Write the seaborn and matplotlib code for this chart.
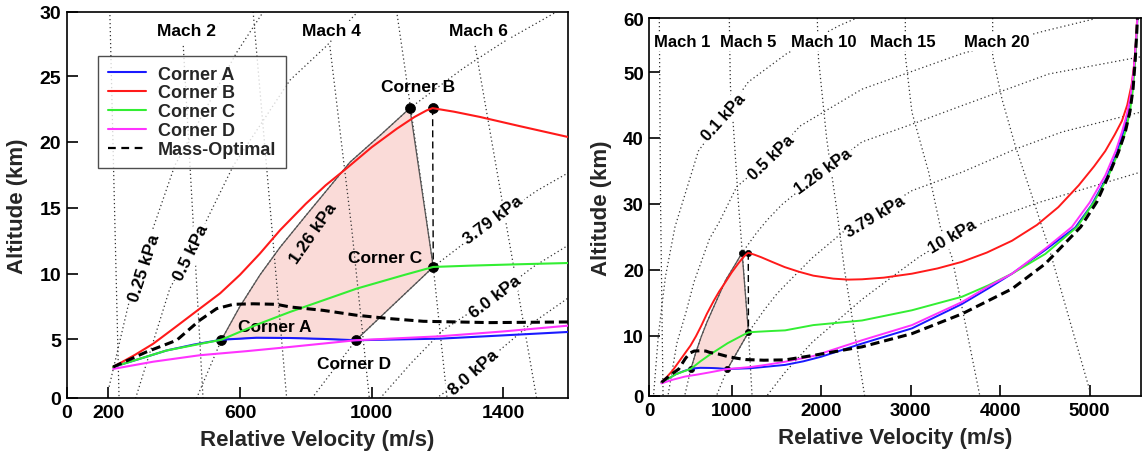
import matplotlib
matplotlib.use("Agg")
import matplotlib.pyplot as plt
import seaborn as sns
from matplotlib.lines import Line2D

# ---------------- data (velocity m/s, altitude km) ----------------
# trajectories
v_a = [215, 300, 377, 460, 544, 650, 752, 853, 952, 1100, 1207, 1400, 1597, 1800, 2000, 2456, 3014, 3573, 3871, 4132, 4504, 4839, 5020, 5190, 5300, 5380, 5440, 5480, 5505, 5525, 5540]
h_a = [2.9, 3.55, 4.15, 4.6, 4.97, 5.12, 5.1, 5.03, 4.93, 5.0, 5.05, 5.3, 5.56, 6.1, 6.8, 8.8, 11.1, 14.8, 17.2, 19.4, 23.0, 26.4, 29.8, 34.0, 37.6, 41.0, 44.8, 48.5, 52.0, 56.0, 60.0]
v_b = [215, 280, 337, 400, 478, 540, 600, 660, 722, 800, 860, 924, 1000, 1076, 1130, 1167, 1185, 1250, 1329, 1450, 1592, 1750, 1912, 2135, 2300, 2456, 2700, 3014, 3300, 3573, 3850, 4132, 4411, 4650, 4877, 5050, 5174, 5280, 5361, 5420, 5470, 5500, 5518, 5530, 5540]
h_b = [2.9, 3.8, 4.67, 5.85, 7.33, 8.5, 9.9, 11.5, 13.3, 15.3, 16.7, 18.0, 19.6, 21.0, 21.9, 22.4, 22.57, 22.3, 21.9, 21.2, 20.4, 19.7, 19.1, 18.65, 18.5, 18.55, 18.8, 19.4, 20.2, 21.2, 22.6, 24.4, 26.8, 29.5, 32.8, 35.7, 38.0, 40.5, 42.6, 45.0, 48.2, 51.5, 54.8, 58.1, 60.0]
v_c = [215, 377, 544, 650, 752, 954, 1100, 1187, 1300, 1440, 1597, 1912, 2456, 3014, 3573, 3871, 4132, 4504, 4860, 5050, 5212, 5320, 5398, 5450, 5485, 5510, 5528, 5540]
h_c = [2.9, 4.15, 4.97, 6.1, 7.08, 8.85, 9.9, 10.5, 10.6, 10.7, 10.8, 11.6, 12.3, 13.85, 15.9, 17.65, 19.4, 22.4, 26.5, 30.3, 34.3, 37.8, 40.9, 44.0, 47.5, 52.0, 56.5, 60.0]
v_d = [215, 337, 478, 620, 752, 952, 1207, 1400, 1597, 1912, 2456, 3014, 3573, 3871, 4132, 4504, 4802, 5000, 5174, 5290, 5361, 5420, 5458, 5490, 5512, 5528, 5540]
h_d = [2.75, 3.3, 3.79, 4.1, 4.42, 4.93, 5.23, 5.6, 6.04, 6.9, 9.3, 11.6, 15.1, 17.5, 19.4, 23.2, 26.5, 30.2, 34.3, 38.0, 40.9, 43.8, 46.5, 50.0, 53.5, 57.0, 60.0]
v_m = [215, 316, 408, 478, 529, 580, 640, 711, 752, 853, 954, 1056, 1157, 1359, 1597, 1912, 2285, 2456, 3014, 3573, 4132, 4504, 4900, 5080, 5212, 5320, 5398, 5450, 5485, 5510, 5528, 5540]
h_m = [2.9, 4.04, 4.93, 6.45, 7.33, 7.66, 7.7, 7.66, 7.46, 7.2, 6.83, 6.57, 6.37, 6.27, 6.32, 7.0, 7.9, 8.3, 10.3, 13.3, 17.1, 20.9, 26.5, 30.3, 34.3, 37.8, 40.9, 44.0, 47.5, 52.0, 56.5, 60.0]

# corner points
corner_v = [544, 1116, 1185, 1187, 952]
corner_h = [4.97, 22.57, 22.57, 10.5, 4.93]

# feasible box (shaded)
box_v = [544, 600, 661, 722, 800, 934, 1030, 1116, 1187, 952, 853, 752, 650]
box_h = [4.97, 7.5, 9.9, 12.0, 14.4, 18.46, 20.6, 22.57, 10.5, 4.93, 5.03, 5.1, 5.12]

# vertical dashed link Corner B -> Corner C
link_v = [1185, 1187]
link_h = [22.57, 10.5]

# Mach lines
mach1 = [(191, 58.2), (205, 29.9), (233, 0.5)]
mach2 = [(428, 27.3), (488, 0.5)]
mach3 = [(640, 29.9), (742, 0.5)]
mach4 = [(873, 27.3), (939, 13.5), (993, 0.5)]
mach5 = [(973, 58.2), (985, 48.0), (1018, 41.9), (1076, 29.9), (1101, 25.6), (1187, 10.5), (1229, 0.5)]
mach6 = [(1314, 27.3), (1501, 0.5)]
mach10 = [(1956, 58.2), (1970, 52.0), (2061, 39.9), (2173, 29.2), (2260, 20.0), (2490, 0.5)]
mach15 = [(2940, 58.2), (2940, 52.5), (3014, 43.9), (3201, 34.8), (3331, 26.5), (3461, 21.9), (3778, 0.5)]
mach20 = [(3916, 58.2), (3916, 52.5), (4020, 45.9), (4169, 38.8), (4392, 29.7), (4467, 26.5), (4541, 23.5), (5026, 0.5)]

# dynamic pressure lines
q01 = [(124, 0.5), (180, 10.0), (260, 19.0), (366, 26.5), (627, 38.0), (906, 43.2), (1186, 48.5), (1615, 52.8), (2210, 57.1), (2400, 58.2)]
q025 = [(200, 1.1), (261, 7.6), (337, 13.5), (402, 18.2), (590, 26.8), (671, 29.9)]
q05 = [(283, 0.5), (387, 8.85), (488, 13.5), (580, 18.2), (752, 24.7), (863, 27.3), (1056, 32.6), (1447, 37.1), (1763, 41.8), (2456, 47.4), (3573, 52.8), (4486, 56.2), (5063, 58.1)]
q126 = [(468, 0.5), (544, 4.97), (600, 7.5), (661, 9.9), (722, 12.0), (800, 14.4), (934, 18.46), (1030, 20.6), (1116, 22.57), (1278, 25.6), (1400, 27.6), (1562, 29.9), (2024, 35.0), (2456, 39.4), (2977, 41.9), (3573, 44.9), (4542, 49.7), (5565, 52.3)]
q379 = [(818, 0.5), (952, 4.93), (1187, 10.5), (1369, 14.0), (1502, 16.3), (1600, 17.7), (1900, 21.8), (2250, 25.8), (2603, 28.5), (3014, 32.0), (3573, 34.8), (4169, 38.3), (4690, 40.9), (5565, 43.9)]
q6 = [(1025, 0.5), (1120, 3.2), (1217, 5.7), (1375, 8.3), (1490, 10.5), (1600, 12.2)]
q8 = [(1195, 0.5), (1308, 2.5), (1390, 4.2), (1480, 6.1), (1600, 8.2)]
q10 = [(1372, 0.5), (1600, 4.5), (1900, 9.0), (2200, 12.5), (2456, 15.5), (2800, 19.0), (3090, 21.9), (3472, 25.1), (3871, 27.5), (4430, 30.2), (5565, 34.8)]

# axis ticks
xticks_L = [74, 200, 600, 1000, 1400]
xlabels_L = ["0", "200", "600", "1000", "1400"]
yticks_L = [0.54, 5, 10, 15, 20, 25, 29.9]
ylabels_L = ["0", "5", "10", "15", "20", "25", "30"]
xticks_R = [79, 1000, 2000, 3000, 4000, 5000]
xlabels_R = ["0", "1000", "2000", "3000", "4000", "5000"]
yticks_R = [0.84, 10, 20, 30, 40, 50, 58.2]
ylabels_R = ["0", "10", "20", "30", "40", "50", "60"]

series_names = ["Corner A", "Corner B", "Corner C", "Corner D", "Mass-Optimal"]

# ---------------- styling ----------------
sns.set_theme(style="white")
plt.rcParams["font.family"] = ["Liberation Sans", "DejaVu Sans"]
plt.rcParams["font.weight"] = "bold"
plt.rcParams["axes.labelweight"] = "bold"

C_BLUE = "#1a1aff"
C_RED = "#ff1a1a"
C_GREEN = "#33ee33"
C_MAG = "#ff33ff"
C_PINK = "#fadbd8"
C_DOT = "#333333"

fig = plt.figure(figsize=(11.44, 4.56), dpi=100)
axL = fig.add_axes([66.7 / 1144, 1 - 399 / 456, 501.6 / 1144, 386.3 / 456])
axR = fig.add_axes([649.3 / 1144, 1 - 397 / 456, 492 / 1144, 378 / 456])


def dotted(ax, pts):
    xs = [p[0] for p in pts]
    ys = [p[1] for p in pts]
    ax.plot(xs, ys, color=C_DOT, lw=0.9, linestyle=(0, (1, 2.2)), zorder=1)


def label(ax, x, y, s, rot=0, box=True, size=12.5):
    kw = dict(ha="center", va="center", rotation=rot, rotation_mode="anchor",
              fontsize=size, fontweight="bold", color="black", zorder=2)
    if box:
        kw["bbox"] = dict(facecolor="white", edgecolor="none", pad=1.5)
    ax.text(x, y, s, **kw)


def draw_common(ax, lw_main, lw_dash, dot_size):
    ax.fill(box_v, box_h, facecolor=C_PINK, edgecolor="none", zorder=0.5)
    ax.plot(box_v + box_v[:1], box_h + box_h[:1], color="#555555", lw=0.9, zorder=2.5)
    ax.plot(link_v, link_h, color="black", lw=1.0, dashes=(5, 3), zorder=2.6)
    sns.scatterplot(x=corner_v, y=corner_h, color="black", s=dot_size, edgecolor="black",
                    linewidth=0.5, zorder=3, ax=ax, legend=False)
    for v, h, c in [(v_a, h_a, C_BLUE), (v_b, h_b, C_RED), (v_c, h_c, C_GREEN), (v_d, h_d, C_MAG)]:
        sns.lineplot(x=v, y=h, sort=False, estimator=None, color=c, lw=lw_main, zorder=4, ax=ax)
    sns.lineplot(x=v_m, y=h_m, sort=False, estimator=None, color="black", lw=lw_dash, zorder=4.5, ax=ax)
    ax.get_lines()[-1].set_dashes((3.0, 1.6))


def style_axes(ax, xt, xl, yt, yl, ts):
    ax.set_xticks(xt)
    ax.set_xticklabels(xl)
    ax.set_yticks(yt)
    ax.set_yticklabels(yl)
    ax.tick_params(direction="in", length=8, width=1.2, labelsize=ts, pad=4,
                   bottom=True, left=True, top=False, right=False, colors="black")
    for sp in ax.spines.values():
        sp.set_color("black")
        sp.set_linewidth(1.2)
    ax.set_xlabel("Relative Velocity (m/s)", fontsize=16, labelpad=6)
    ax.set_ylabel("Altitude (km)", fontsize=16, labelpad=8)
    ax.grid(False)


# ---------------- left panel ----------------
for pts in [mach1, mach2, mach3, mach4, mach5, mach6, q025, q05, q126, q379, q6, q8]:
    dotted(axL, pts)
draw_common(axL, 1.5, 2.2, 52)
axL.set_xlim(74, 1597)
axL.set_ylim(0.54, 29.9)
style_axes(axL, xticks_L, xlabels_L, yticks_L, ylabels_L, 14)

label(axL, 438, 28.5, "Mach 2")
label(axL, 878, 28.5, "Mach 4")
label(axL, 1324, 28.5, "Mach 6")
label(axL, 309, 10.5, "0.25 kPa", rot=72)
label(axL, 452, 11.6, "0.5 kPa", rot=64)
label(axL, 823, 13.1, "1.26 kPa", rot=55, box=False)
label(axL, 1369, 14.1, "3.79 kPa", rot=37)
label(axL, 1375, 8.3, "6.0 kPa", rot=37)
label(axL, 1309, 2.5, "8.0 kPa", rot=41)
label(axL, 1140, 24.2, "Corner B", box=False)
label(axL, 1040, 11.2, "Corner C", box=False)
label(axL, 706, 5.94, "Corner A", box=False)
label(axL, 947, 3.2, "Corner D", box=False)

handles = [Line2D([], [], color=C_BLUE, lw=1.5),
           Line2D([], [], color=C_RED, lw=1.5),
           Line2D([], [], color=C_GREEN, lw=1.5),
           Line2D([], [], color=C_MAG, lw=1.5),
           Line2D([], [], color="black", lw=1.6, dashes=(3.5, 2.5))]
leg = axL.legend(handles, series_names, loc="upper left", bbox_to_anchor=(0.0618, 0.886),
                 borderaxespad=0, frameon=True, fancybox=False,
                 handlelength=2.1, handletextpad=0.7, labelspacing=0.1, borderpad=0.55,
                 prop={"weight": "bold", "size": 13})
leg.get_frame().set_edgecolor("#222222")
leg.get_frame().set_linewidth(1.0)
leg.set_zorder(6)

# ---------------- right panel ----------------
for pts in [mach1, mach5, mach10, mach15, mach20, q01, q05, q126, q379, q10]:
    dotted(axR, pts)
draw_common(axR, 1.4, 2.2, 20)
axR.set_xlim(79, 5577)
axR.set_ylim(0.84, 58.2)
style_axes(axR, xticks_R, xlabels_R, yticks_R, ylabels_R, 13.5)

label(axR, 441, 54.6, "Mach 1", size=12)
label(axR, 1186, 54.6, "Mach 5", size=12)
label(axR, 2024, 54.6, "Mach 10", size=12)
label(axR, 2911, 54.6, "Mach 15", size=12)
label(axR, 3964, 54.6, "Mach 20", size=12)
label(axR, 906, 43.2, "0.1 kPa", rot=48, size=12)
label(axR, 1447, 37.1, "0.5 kPa", rot=44, size=12)
label(axR, 2024, 35.0, "1.26 kPa", rot=36, size=12)
label(axR, 2603, 28.2, "3.79 kPa", rot=31, size=12)
label(axR, 3472, 25.1, "10 kPa", rot=30, size=12)

fig.savefig("out.png", dpi=100)
